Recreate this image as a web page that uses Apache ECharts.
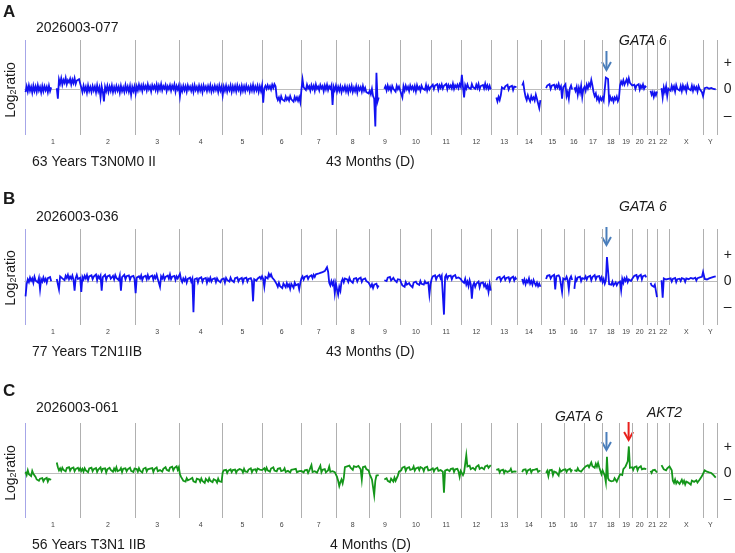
<!DOCTYPE html>
<html><head><meta charset="utf-8">
<script src="https://cdn.jsdelivr.net/npm/echarts@6/dist/echarts.min.js"></script>
<style>html,body{margin:0;padding:0;background:#fff}#c{width:735px;height:553px}</style>
</head><body><div id="c"></div>
<script>
// ---------- data ----------
const chromNames = ['1','2','3','4','5','6','7','8','9','10','11','12','13','14','15','16','17','18','19','20','21','22','X','Y'];
const chromLengthsMb = [249,243,198,191,181,171,159,146,141,136,135,134,115,107,102,90,81,78,59,63,48,51,155,59];
const yTickValues = [-100, 0, 100];
const yTickLabels = ['\u2013', '0', '+'];
const panelLetters = ['A', 'B', 'C'];
const sampleIds = ['2026003-077', '2026003-036', '2026003-061'];
const clinicalTexts = ['63 Years T3N0M0 II', '77 Years T2N1IIB', '56 Years T3N1 IIB'];
const survivalTexts = ['43 Months (D)', '43 Months (D)', '4 Months (D)'];
// gene positions (chromosome, Mb)
const geneGATA6 = ['18', 19.8];
const geneAKT2 = ['19', 40.7];

// log2 ratio (x100), per chromosome, evenly spaced probes along each chromosome
const panelA_log2 = [
[-10,12,-8,15,-5,10,-12,14,-6,11,-9,16,-4,9,-11,13,-7,12,-3,10,-10,14,-6,8,null,null,null,null,5,-35,38,22,42,18,36,25,44,20,35,27,40,19,37,24,43,21,34,28,39,23],
[8,-10,14,-5,10,-12,15,-6,9,-9,13,-4,11,-11,16,-7,8,-30,12,-8,-45,10,-6,14,-9,11,-5,15,-10,9,-7,13,-4,10,-12,14,-6,8,-9,16,-5,11,-8,13,-20,10,-6,12],
[-15,12,-3,18,0,14,-6,17,2,13,-4,19,1,12,-7,16,3,14,-2,18,-5,15,0,20,-3,13,4,17,-6,12,1,16,-4,14,2,19,-8,13,0,15],
[-25,10,-6,14,-3,12,-8,15,0,11,-5,13,-9,16,-2,10,-7,14,-4,12,-10,15,-1,11,-6,13,-3,16,-8,10,-5,14,-2,12,-9,15,-4,11],
[-22,11,-5,14,-8,10,-3,15,-9,12,-4,13,-7,16,-2,11,-10,14,-5,12,-6,15,-1,10,-8,13,-4,17,-6,11,-3,14,-9,12,-5,16],
[-50,5,14,2,16,4,13,0,18,6,20,12,-28,-40,-30,-45,-26,-38,-32,-44,-27,-39,-31,-42,-25,-37,-33,-46,-28,-40,-30,-43,-29,-48],
[0,38,8,15,-2,18,4,12,-4,16,2,14,-5,19,3,11,-3,17,5,13,-6,15,1,18,-2,12,4,16,-58,10,-3,14],
[-8,10,-5,12,-10,8,-3,13,-7,9,-11,11,-4,14,-9,7,-6,12,-12,10,-2,9,-8,13,-5,6,-10,-8,-15],
[-5,-18,2,-25,-35,-140,63,-45,-30,null,null,null,null,2,12,-4,15,0,10,-6,13,3,9,-8,14,1,11,-3],
[3,-30,12,-4,14,0,10,-6,15,2,11,-3,13,-7,16,1,9,-5,14,4,10,-2,17,-4,12,0,8],
[5,18,2,15,8,20,0,16,6,19,3,14,9,21,1,17,7,15,4,22,2,16,8,18,5,20,10],
[55,10,-30,16,4,19,7,14,2,20,9,15,3,18,6,21,1,13,8,17,4,22,5,16,2,14,0],
[null,null,null,null,-30,-45,-28,-40,-22,8,15,2,12,5,18,0,10,6,14,-2,11,4,9],
[null,null,null,null,15,25,-5,-28,-40,-22,-35,-45,-25,-38,-30,-42,-20,-36,-33,-70,-40],
[null,null,null,null,5,15,8,20,2,14,10,18,4,16,7,21,3,12,-35,8],
[12,20,-25,-10,-35,5,15,0,null,8,-5,10,-20,6,-12,14,-28,2],
[10,-5,18,4,22,12,36,15,-10,-25,-15,-38,-28,-45,-30,-40],
[-30,-42,-35,45,50,40,-45,-28,-40,-32,-46,-30,-38,-27,-44,-33],
[15,30,20,35,18,28,38,22,42,25,32,15],
[8,18,2,15,10,20,0,14,6,19,3,12,8],
[null,null,null,-5,-20,-10,-28,-12,-22,-8],
[null,null,null,5,-30,8,-10,12,-25,3],
[10,-5,14,0,12,-8,16,2,9,-4,13,-6,15,1,11,-7,17,3,10,-3,14,-5,12,0,9,-8,13,2,6,-10,-25],
[5,8,3,6,2,0]
];
const panelB_log2 = [
[-57,-10,8,-2,15,3,12,-5,18,4,10,-3,14,-30,9,0,16,2,11,-4,13,6,17,1,null,null,null,null,10,15,-30,20,24,12,18,5,22,14,26,9,19,11,23,7,-35,13,25,10,17,15],
[-40,18,8,22,12,25,6,20,14,24,9,19,16,27,5,21,13,23,-35,17,10,26,7,20,15,24,11,18,22,8,25,14,19,6,23,-35,17,12,26,9,21,15,24,7,19,13,22,10],
[-45,15,8,20,12,24,6,18,14,22,9,25,11,19,16,23,7,21,13,26,10,17,-20,20,12,24,8,18,15,23,11,27,9,19,14,22,6,20,12,16],
[30,8,-2,12,3,14,-4,10,6,15,0,11,-118,9,2,13,-3,12,5,16,-1,10,7,14,-5,11,3,15,0,9,6,13,-2,12,4,10,-3,8],
[2,12,-4,14,6,10,0,15,5,11,-2,13,8,16,1,9,4,14,-3,12,7,15,0,10,5,13,2,-76,9,16,3,11,6,18,10,20],
[10,-20,18,25,12,30,20,28,15,22,5,10,-10,-20,-5,-18,-12,-25,-8,-15,-22,-6,-19,-11,-28,-9,-16,-24,-4,-14,-20,-10,-30,-5],
[12,20,8,18,14,22,10,19,16,24,13,26,18,28,22,30,25,33,28,36,30,40,34,55,38,-5,-15,2,-12,0,-45,-8],
[-30,-50,-20,-35,0,10,-3,12,5,8,-2,14,3,9,-5,11,6,13,0,10,4,15,-1,8,7,12,2,9,-4],
[-5,-20,-10,-25,-12,-18,-8,-22,-15,null,null,null,null,5,12,2,15,8,18,4,10,14,6,12,-2,9,3,7],
[-5,-15,-8,-20,-2,-12,-18,-6,-14,-10,-22,-4,-11,0,-8,-3,-13,2,-9,-5,-12,1,-7,-14,-4,-50,-10],
[10,20,14,24,8,19,16,25,12,22,15,-127,18,26,11,21,17,23,9,20,14,25,13,19,16,22,10],
[2,8,-5,10,-12,0,-18,5,-10,-66,-15,-5,-20,-8,-14,0,-22,-6,-12,-3,-18,-9,-25,-15,-40,-10,-35],
[null,null,null,null,5,15,8,18,3,12,10,20,6,14,9,17,2,13,11,19,4,15,8],
[null,null,null,null,10,-5,8,-10,5,-3,12,-8,2,-12,6,-6,-15,-4,-18,-8,-20],
[null,null,null,null,10,22,15,25,12,20,18,26,-30,21,14,24,16,19,-40,12],
[15,8,18,5,-30,12,20,6,null,-28,14,4,16,9,19,2,13,10],
[10,20,8,18,14,22,5,17,12,25,9,19,15,21,6,16],
[-2,10,-8,5,94,90,-10,-5,-12,0,-15,-8,-3,-14,-6,-10],
[0,-33,10,-5,12,3,15,-2,8,14,2,10],
[12,22,15,25,10,20,18,26,8,21,14,24,16],
[null,null,null,-5,-15,-8,-20,-12,-18,-60],
[null,null,null,5,-62,12,18,8,15,10],
[5,12,0,10,6,14,-2,9,4,11,2,13,7,10,-1,12,5,9,3,14,8,11,6,15,4,13,10,16,12,18,37],
[10,8,12,15,18,20]
];
const panelC_log2 = [
[5,-8,10,-5,2,-12,8,-3,-10,-15,-25,-18,-30,-22,-28,-20,-32,-24,-27,-19,-33,-23,-29,-26,null,null,null,null,40,22,10,18,8,20,12,16,6,19,14,22,9,17,11,21,7,15,13,20,10,18],
[8,16,5,18,10,14,3,17,12,20,7,15,9,19,4,13,11,21,6,16,10,18,2,14,8,20,12,15,5,17,9,22,7,13,11,19,3,16,10,18,6,14,12,20,8,15,4,17],
[10,15,5,18,9,13,2,16,11,20,6,14,8,17,12,19,4,15,10,21,7,13,11,18,5,16,9,22,12,17,8,20,14,24,10,19,15,26,12,22],
[-5,-15,-22,-30,-25,-33,-20,-28,-35,-24,-30,-19,-32,-27,-36,-22,-29,-25,-34,-21,-31,-26,-38,-23,-28,-33,-20,-30,-27,-35,-24,-31,-29,-37,-22,-32,-26,-34],
[2,10,4,12,0,9,6,14,3,11,7,13,1,10,5,15,8,12,2,16,6,11,4,13,9,18,3,12,7,14,5,17,10,13,6,11],
[12,18,8,20,10,15,5,17,11,22,9,14,6,16,12,19,7,13,10,18,4,11,8,15,2,12,6,14,9,16,3,10,7,13],
[8,14,2,10,6,12,0,9,5,30,4,11,7,13,1,10,8,28,3,12,6,15,2,9,10,25,4,11,7,14,3,8],
[-15,-30,-50,-35,-25,-40,-20,22,15,25,18,28,20,24,12,26,19,23,16,27,21,14,-25,22,18,25,15,20,10],
[-5,-15,-25,-20,-85,-30,-10,-5,-8,null,null,null,null,-25,-32,-20,-30,-24,-35,-22,-28,-33,-18,-30,-26,-10,5,12],
[10,20,14,24,8,18,16,22,12,19,15,25,9,17,13,21,11,23,16,18,7,20,14,24,10,17,12],
[12,18,6,15,10,20,8,14,11,17,5,-76,9,16,13,19,7,15,10,18,4,14,12,16,6,-15,8],
[5,-8,2,-5,68,25,18,28,15,22,20,26,12,24,19,30,16,23,21,27,14,25,18,29,20,24,30],
[null,null,null,null,12,5,15,2,10,7,13,0,9,14,4,11,8,16,3,10,6,12,5],
[null,null,null,null,3,12,6,14,0,10,8,15,2,11,5,13,7,16,4,9,10],
[null,null,null,null,0,8,-12,10,3,12,-8,6,11,2,9,-10,14,5,8,12],
[8,14,4,12,10,16,6,13,null,11,15,7,18,9,14,5,12,16],
[15,25,18,30,22,28,40,26,32,20,35,24,38,22,15,-5],
[10,5,-10,-35,62,-20,-28,-22,-32,-25,-30,-20,-27,-33,-24,-28],
[-5,2,-8,15,10,25,30,45,102,20,15,22],
[12,22,16,25,10,20,18,26,14,21,17,24,15],
[null,null,null,8,0,10,3,12,5,2],
[null,null,null,30,22,14,20,10,18,12],
[25,28,10,-30,-38,-25,-40,-32,-28,-42,-35,-26,-39,-30,-44,-33,-27,-38,-31,-45,-29,-36,-34,-40,-28,-37,-32,-25,-20,-12,-5],
[10,5,2,0,-8,-18]
];

// ---------- layout / style ----------
const FONT = '"Liberation Sans", Arial, Helvetica, sans-serif';
const gridTops = [40, 229, 423];
const gridHeights = [95, 96, 95];
const yRanges = [[-172, 187], [-167, 202], [-173, 192]];
const lineColors = ['#1212f2', '#1212f2', '#14961a'];

const offsets = []; let acc = 0;
chromLengthsMb.forEach(l => { offsets.push(acc); acc += l; });
const genomeLength = acc;
const boundaries = offsets.concat([genomeLength]);
const mids = chromLengthsMb.map((l, i) => offsets[i] + l / 2);
function genomePos(gene) { return offsets[chromNames.indexOf(gene[0])] + gene[1]; }

function buildSeries(perChrom) {
  const out = [];
  perChrom.forEach((vals, c) => {
    const n = vals.length, len = chromLengthsMb[c];
    vals.forEach((v, k) => out.push([offsets[c] + (k + 0.5) * len / n, v === null ? '-' : v]));
  });
  return out;
}
const panels = [panelA_log2, panelB_log2, panelC_log2];

const chart = echarts.init(document.getElementById('c'), null, {renderer: 'canvas'});
const option = {
  animation: false,
  backgroundColor: '#ffffff',
  grid: panels.map((p, i) => ({left: 25, right: 16, top: gridTops[i], height: gridHeights[i]})),
  xAxis: panels.map((p, i) => ({
    gridIndex: i, type: 'value', min: 0, max: genomeLength,
    splitLine: {show: false},
    axisLine: {lineStyle: {color: '#9a9a9a', width: 1}},
    axisTick: {show: true, customValues: boundaries, length: 3, lineStyle: {color: '#9a9a9a'}},
    axisLabel: {
      customValues: mids, fontSize: 7, color: '#444', margin: 4, fontFamily: FONT,
      formatter: v => { const k = mids.findIndex(m => Math.abs(m - v) < 0.01); return k >= 0 ? chromNames[k] : ''; }
    }
  })),
  yAxis: panels.map((p, i) => ({
    gridIndex: i, type: 'value', position: 'right', min: yRanges[i][0], max: yRanges[i][1],
    splitLine: {show: false}, axisLine: {show: false}, axisTick: {show: false},
    axisLabel: {
      customValues: yTickValues, fontSize: 14, color: '#222', margin: 7, fontFamily: FONT,
      formatter: v => yTickLabels[yTickValues.indexOf(v)]
    }
  })),
  series: panels.map((p, i) => ({
    type: 'line', xAxisIndex: i, yAxisIndex: i, z: 3,
    data: buildSeries(p), showSymbol: false, connectNulls: false,
    lineStyle: {color: lineColors[i], width: 1.8, join: 'miter'}, itemStyle: {color: lineColors[i]},
    markLine: {
      z: 1, silent: true, symbol: 'none', label: {show: false}, animation: false,
      lineStyle: {color: '#b0b0b0', type: 'solid', width: 1},
      data: boundaries.map((b, k) => k === 0 ? {xAxis: b, lineStyle: {color: '#a6a6e8'}} : {xAxis: b})
        .concat([{yAxis: 0, lineStyle: {color: '#bdbdbd', width: 1}}])
    }
  }))
};
chart.setOption(option);

// ---------- annotations ----------
const letterY = [12, 199, 391];
const idY = [28, 217, 408];
const logY = [90, 278, 473];
const bottomY = [162, 352, 545];
const survX = [326, 326, 330];
function txt(x, y, text, font, extra) {
  return Object.assign({type: 'text', x: x, y: y, z: 10,
    style: {text: text, font: font, fill: '#1a1a1a', align: 'left', textAlign: 'left', verticalAlign: 'middle', textVerticalAlign: 'middle'}}, extra || {});
}
function arrow(x, y1, y2, color) {
  return {type: 'group', z: 10, children: [
    {type: 'polyline', shape: {points: [[x, y1], [x, y2 - 1]]}, style: {stroke: color, lineWidth: 2, fill: null}},
    {type: 'polyline', shape: {points: [[x - 4.5, y2 - 8], [x, y2], [x + 4.5, y2 - 8]]}, style: {stroke: color, lineWidth: 2, fill: null}}
  ]};
}
const graphics = [];
for (let i = 0; i < 3; i++) {
  graphics.push(txt(3, letterY[i], panelLetters[i], 'bold 17px ' + FONT));
  graphics.push(txt(36, idY[i], sampleIds[i], '14px ' + FONT));
  graphics.push(txt(32, bottomY[i], clinicalTexts[i], '14px ' + FONT));
  graphics.push(txt(survX[i], bottomY[i], survivalTexts[i], '14px ' + FONT));
  graphics.push({type: 'text', x: 11, y: logY[i], rotation: Math.PI / 2, z: 10,
    style: {text: '{a|Log}{s|2}{a|ratio}', align: 'center', textAlign: 'center', verticalAlign: 'middle', textVerticalAlign: 'middle', fill: '#1a1a1a',
      rich: {a: {fontSize: 14, fontFamily: FONT, fill: '#1a1a1a', color: '#1a1a1a'}, s: {fontSize: 9, fontFamily: FONT, fill: '#1a1a1a', color: '#1a1a1a', verticalAlign: 'bottom'}}}});
}
const gx = [0, 1, 2].map(i => chart.convertToPixel({xAxisIndex: i}, genomePos(geneGATA6)));
const ax = chart.convertToPixel({xAxisIndex: 2}, genomePos(geneAKT2));
graphics.push(txt(619, 41, 'GATA 6', 'italic 14px ' + FONT));
graphics.push(arrow(gx[0], 51, 70, '#4a7ebb'));
graphics.push(txt(619, 207, 'GATA 6', 'italic 14px ' + FONT));
graphics.push(arrow(gx[1], 227, 245, '#4a7ebb'));
graphics.push(txt(555, 417, 'GATA 6', 'italic 14px ' + FONT));
graphics.push(arrow(gx[2], 432, 450, '#4a7ebb'));
graphics.push(txt(647, 413, 'AKT2', 'italic 14px ' + FONT));
graphics.push(arrow(ax, 422, 440, '#e8201c'));
chart.setOption({graphic: graphics});
</script></body></html>
